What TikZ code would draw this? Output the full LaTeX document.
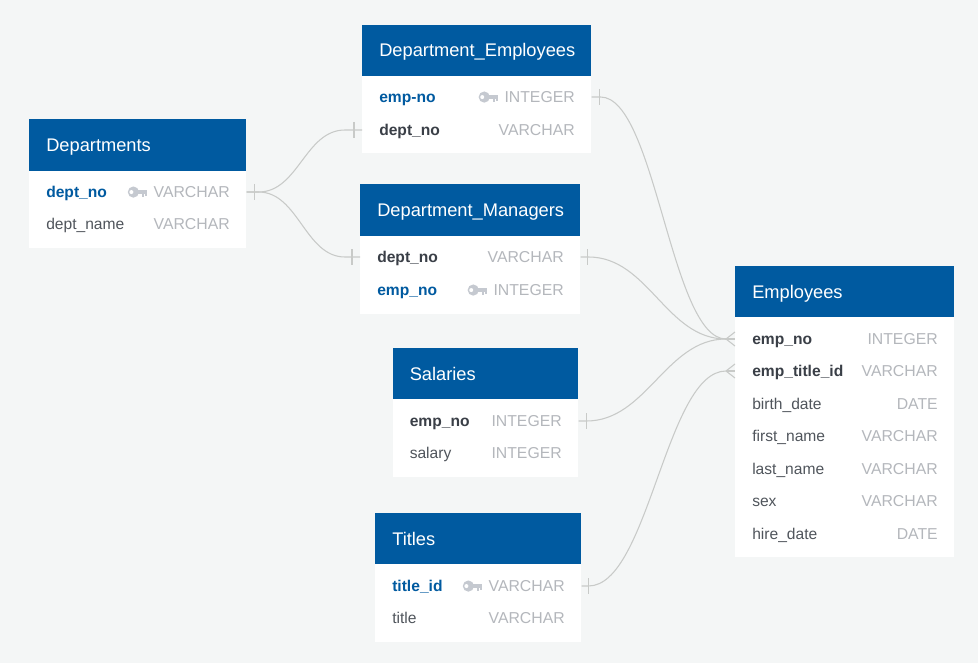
\documentclass[tikz,border=0pt]{standalone}
\usepackage{fontspec}
\setmainfont{Liberation Sans}
\definecolor{bg}{HTML}{F4F6F6}
\definecolor{hdr}{HTML}{005AA0}
\definecolor{rel}{HTML}{C8CAC8}
\definecolor{keyc}{HTML}{C5C9D0}
\definecolor{typec}{HTML}{B4B7BC}
\definecolor{darktxt}{HTML}{3A3F47}
\definecolor{plaintxt}{HTML}{50555C}
\tikzset{
  x=0.75pt,y=-0.75pt,
  header/.style={fill=hdr,draw=none,inner sep=0,anchor=north west},
  bodybox/.style={fill=white,draw=none,inner sep=0,anchor=north west},
  titletxt/.style={text=white,font=\fontsize{13.7}{15}\selectfont,anchor=base west,inner sep=0},
  fieldtxt/.style={font=\fontsize{11.7}{14}\selectfont,anchor=base west,inner sep=0},
  fplain/.style={fieldtxt,text=plaintxt},
  fbold/.style={fieldtxt,text=darktxt,font=\fontsize{11.7}{14}\selectfont\bfseries},
  fkey/.style={fieldtxt,text=hdr,font=\fontsize{11.7}{14}\selectfont\bfseries},
  typetxt/.style={font=\fontsize{11.85}{14}\selectfont,text=typec,anchor=base east,inner sep=0},
  band/.style={inner sep=0,draw=none,anchor=west},
  link/.style={draw=rel,line width=0.8pt},
}
% \tbl{id}{x0}{x1}{ytop}{yhdrbottom}{ybottom}{title}
\newcommand{\tbl}[7]{%
  \node[bodybox,minimum width=(#3-#2)*0.75pt,minimum height=(#6-#4)*0.75pt] (#1) at (#2,#4) {};
  \node[header,minimum width=(#3-#2)*0.75pt,minimum height=(#5-#4)*0.75pt] (#1-h) at (#2,#4) {};
  \node[titletxt] (#1-t) at (#2+17,{(#4+#5)/2+6.5}) {#7};
}
% \fld{id}{x0}{x1}{y}{style}{name}{type}
\newcommand{\fld}[7]{%
  \node[band,minimum width=(#3-#2)*0.75pt,minimum height=24pt] (#1) at (#2,#4) {};
  \node[#5] (#1-n) at (#2+17,#4+5.5) {#6};
  \node[typetxt] (#1-y) at (#3-16,#4+5.5) {#7};
}
% key icon left of the type text #1
\newcommand{\keyicon}[1]{%
  \fill[keyc] ([shift={(-20,0)}]#1.west) circle (4.2pt);
  \fill[keyc] ([shift={(-20,-2)}]#1.west) rectangle ([shift={(-6,1.5)}]#1.west);
  \fill[keyc] ([shift={(-11.5,0)}]#1.west) rectangle ([shift={(-9,5)}]#1.west);
  \fill[keyc] ([shift={(-8,0)}]#1.west) rectangle ([shift={(-6,4)}]#1.west);
  \fill[white] ([shift={(-22,0)}]#1.west) circle (1.5pt);
}
\newcommand{\tick}[2]{\draw[link] ([shift={(#2,-8)}]#1) -- ([shift={(#2,8)}]#1);}
\newcommand{\crow}[1]{%
  \draw[link] ([shift={(-9,0)}]#1) -- (#1);
  \draw[link] ([shift={(-9,0)}]#1) -- ([shift={(0,-7)}]#1);
  \draw[link] ([shift={(-9,0)}]#1) -- ([shift={(0,7)}]#1);
}
\begin{document}
\begin{tikzpicture}
\useasboundingbox (0,0) rectangle (978,663);
\fill[bg] (0,0) rectangle (978,663);

\tbl{dep}{29}{246}{119}{171}{248}{Departments}
\fld{dep1}{29}{246}{192}{fkey}{dept\_no}{VARCHAR}
\fld{dep2}{29}{246}{224}{fplain}{dept\_name}{VARCHAR}
\keyicon{dep1-y}

\tbl{de}{362}{591}{25}{76}{153}{Department\_Employees}
\fld{de1}{362}{591}{97}{fkey}{emp-no}{INTEGER}
\fld{de2}{362}{591}{130}{fbold}{dept\_no}{VARCHAR}
\keyicon{de1-y}

\tbl{dm}{360}{580}{184}{236}{314}{Department\_Managers}
\fld{dm1}{360}{580}{257}{fbold}{dept\_no}{VARCHAR}
\fld{dm2}{360}{580}{290}{fkey}{emp\_no}{INTEGER}
\keyicon{dm2-y}

\tbl{sal}{392.5}{578}{348}{399}{477}{Salaries}
\fld{sal1}{392.5}{578}{421}{fbold}{emp\_no}{INTEGER}
\fld{sal2}{392.5}{578}{453}{fplain}{salary}{INTEGER}

\tbl{tit}{375}{581}{513}{564}{642}{Titles}
\fld{tit1}{375}{581}{586}{fkey}{title\_id}{VARCHAR}
\fld{tit2}{375}{581}{618}{fplain}{title}{VARCHAR}
\keyicon{tit1-y}

\tbl{emp}{735}{954}{266}{317}{557}{Employees}
\fld{emp1}{735}{954}{339}{fbold}{emp\_no}{INTEGER}
\fld{emp2}{735}{954}{371}{fbold}{emp\_title\_id}{VARCHAR}
\fld{emp3}{735}{954}{404}{fplain}{birth\_date}{DATE}
\fld{emp4}{735}{954}{436}{fplain}{first\_name}{VARCHAR}
\fld{emp5}{735}{954}{469}{fplain}{last\_name}{VARCHAR}
\fld{emp6}{735}{954}{501}{fplain}{sex}{VARCHAR}
\fld{emp7}{735}{954}{534}{fplain}{hire\_date}{DATE}

% connectors
\draw[link] (dep1.east) -- ++(12,0) .. controls +(40,0) and +(-40,0) .. ([shift={(-17,0)}]de2.west) -- (de2.west);
\draw[link] (dep1.east) -- ++(12,0) .. controls +(40,0) and +(-40,0) .. ([shift={(-15,0)}]dm1.west) -- (dm1.west);
\tick{dep1.east}{8}
\tick{de2.west}{-8}
\tick{dm1.west}{-8}

\draw[link] (de1.east) -- ++(9,0) .. controls +(55,0) and +(-55,0) .. ([shift={(-9,0)}]emp1.west);
\draw[link] (dm1.east) -- ++(8,0) .. controls +(60,0) and +(-60,0) .. ([shift={(-9,0)}]emp1.west);
\draw[link] (sal1.east) -- ++(8,0) .. controls +(60,0) and +(-60,0) .. ([shift={(-9,0)}]emp1.west);
\draw[link] (tit1.east) -- ++(7,0) .. controls +(60,0) and +(-60,0) .. ([shift={(-9,0)}]emp2.west);
\tick{de1.east}{8}
\tick{dm1.east}{7}
\tick{sal1.east}{8}
\tick{tit1.east}{7}
\crow{emp1.west}
\crow{emp2.west}
\end{tikzpicture}
\end{document}
